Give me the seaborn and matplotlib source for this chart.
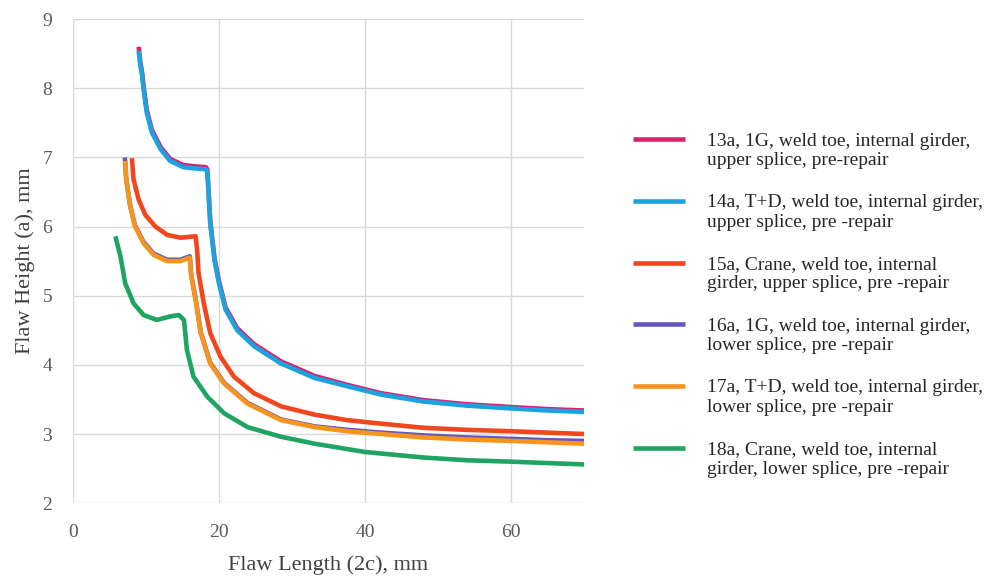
import numpy as np
import pandas as pd
import matplotlib
matplotlib.use("Agg")
import matplotlib.pyplot as plt
from matplotlib.legend_handler import HandlerLine2D
import seaborn as sns

labels = [
    "13a, 1G, weld toe, internal girder,\nupper splice, pre-repair",
    "14a, T+D, weld toe, internal girder,\nupper splice, pre -repair",
    "15a, Crane, weld toe, internal\ngirder, upper splice, pre -repair",
    "16a, 1G, weld toe, internal girder,\nlower splice, pre -repair",
    "17a, T+D, weld toe, internal girder,\nlower splice, pre -repair",
    "18a, Crane, weld toe, internal\ngirder, lower splice, pre -repair",
]
colors = ["#d6246e", "#1da2e0", "#f1471f", "#6457c4", "#f7941d", "#1fa463"]

x13 = [9.0, 9.2, 9.45, 9.67, 10.1, 10.8, 12.0, 13.3, 15.1, 16.8, 18.2, 18.4, 18.8, 19.4, 20.0, 20.9, 22.5, 24.8, 28.5, 33.1, 37.6, 42.2, 48, 54, 60, 65, 70]
y13 = [8.6, 8.39, 8.24, 8.03, 7.69, 7.4, 7.15, 6.98, 6.89, 6.87, 6.86, 6.83, 6.08, 5.53, 5.21, 4.83, 4.53, 4.3, 4.05, 3.84, 3.71, 3.59, 3.49, 3.43, 3.39, 3.36, 3.34]
x14 = [9.0, 9.2, 9.45, 9.67, 10.1, 10.8, 12.0, 13.3, 15.1, 16.8, 18.2, 18.4, 18.8, 19.4, 20.0, 20.9, 22.5, 24.8, 28.5, 33.1, 37.6, 42.2, 48, 54, 60, 65, 70]
y14 = [8.54, 8.35, 8.2, 7.99, 7.65, 7.36, 7.12, 6.95, 6.86, 6.84, 6.83, 6.8, 6.05, 5.5, 5.18, 4.8, 4.5, 4.27, 4.02, 3.81, 3.69, 3.57, 3.47, 3.41, 3.37, 3.34, 3.32]
x15 = [8.07, 8.3, 9.0, 9.9, 11.3, 12.9, 14.7, 16.8, 17.0, 17.2, 17.9, 18.8, 20.2, 22.05, 24.8, 28.5, 33.1, 37.6, 42.2, 48, 54, 60, 65, 70]
y15 = [6.99, 6.68, 6.39, 6.17, 6.0, 5.88, 5.84, 5.86, 5.67, 5.33, 4.9, 4.46, 4.12, 3.83, 3.59, 3.4, 3.28, 3.2, 3.15, 3.09, 3.06, 3.04, 3.02, 3.0]
x16 = [7.1, 7.28, 7.82, 8.48, 9.65, 11.03, 12.9, 14.7, 16.0, 16.2, 16.8, 17.5, 18.8, 20.7, 23.9, 28.5, 33.1, 37.6, 42.2, 48, 54, 60, 65, 70]
y16 = [7.0, 6.7, 6.31, 6.02, 5.78, 5.61, 5.52, 5.52, 5.57, 5.3, 4.95, 4.47, 4.03, 3.74, 3.45, 3.21, 3.11, 3.06, 3.02, 2.98, 2.95, 2.93, 2.91, 2.9]
x17 = [7.15, 7.3, 7.84, 8.5, 9.67, 11.05, 12.9, 14.7, 16.0, 16.2, 16.8, 17.5, 18.8, 20.7, 23.9, 28.5, 33.1, 37.6, 42.2, 48, 54, 60, 65, 70]
y17 = [6.95, 6.68, 6.29, 6.0, 5.76, 5.59, 5.5, 5.5, 5.55, 5.28, 4.94, 4.46, 4.02, 3.73, 3.44, 3.2, 3.1, 3.04, 3.0, 2.95, 2.92, 2.9, 2.88, 2.86]
x18 = [5.8, 6.5, 7.15, 8.3, 9.67, 11.5, 13.3, 14.5, 15.2, 15.6, 16.5, 18.4, 20.7, 23.9, 28.5, 33.1, 40, 48, 54, 60, 65, 70]
y18 = [5.86, 5.57, 5.18, 4.89, 4.72, 4.65, 4.7, 4.72, 4.65, 4.22, 3.83, 3.54, 3.3, 3.1, 2.96, 2.86, 2.74, 2.66, 2.62, 2.6, 2.58, 2.56]

xs = [x13, x14, x15, x16, x17, x18]
ys = [y13, y14, y15, y16, y17, y18]

frames = []
for lab, xv, yv in zip(labels, xs, ys):
    frames.append(pd.DataFrame({"x": xv, "y": yv, "series": lab}))
df = pd.concat(frames, ignore_index=True)

sns.set_theme(style="white")
plt.rcParams["font.family"] = ["Liberation Serif", "DejaVu Serif"]
plt.rcParams["lines.solid_joinstyle"] = "round"
plt.rcParams["lines.solid_capstyle"] = "butt"

fig = plt.figure(figsize=(10, 5.81), dpi=100)
ax = fig.add_axes([0.073, 0.134, 0.511, 0.833])

sns.lineplot(data=df, x="x", y="y", hue="series", hue_order=labels,
             palette=colors, sort=False, estimator=None, units="series",
             linewidth=3.3, ax=ax, legend=True)

ax.set_xlim(0, 70)
ax.set_ylim(2, 9)
ax.set_xticks([0, 20, 40, 60])
ax.set_yticks([2, 3, 4, 5, 6, 7, 8, 9])
ax.grid(True, color="#d9d9d9", linewidth=1)
ax.set_axisbelow(True)
for s in ax.spines.values():
    s.set_visible(False)
ax.tick_params(axis="x", length=0, labelsize=14, colors="#595959", pad=15)
ax.tick_params(axis="y", length=0, labelsize=14, colors="#595959", pad=15)
ax.set_xlabel("Flaw Length (2c), mm", fontsize=16, color="#404040", labelpad=10)
ax.set_ylabel("Flaw Height (a), mm", fontsize=16, color="#404040", labelpad=5)


class RaisedLine(HandlerLine2D):
    def create_artists(self, legend, orig_handle, xdescent, ydescent,
                       width, height, fontsize, trans):
        arts = super().create_artists(legend, orig_handle, xdescent, ydescent,
                                      width, height, fontsize, trans)
        for a in arts:
            a.set_ydata(np.asarray(a.get_ydata(), dtype=float) + 0.57 * fontsize)
        return arts


handles, labs = ax.get_legend_handles_labels()
ax.legend_.remove()
leg = fig.legend(handles, labs, loc="center left", bbox_to_anchor=(0.623, 0.475),
                 frameon=False, fontsize=14, handlelength=2.7, handletextpad=1.1,
                 labelspacing=1.29, borderpad=0, labelcolor="#262626",
                 handler_map={h: RaisedLine() for h in handles})
for t in leg.get_texts():
    t.set_linespacing(1.2)
for h in leg.get_lines():
    h.set_linewidth(3.3)

fig.savefig("out.png", dpi=100, facecolor="white")
